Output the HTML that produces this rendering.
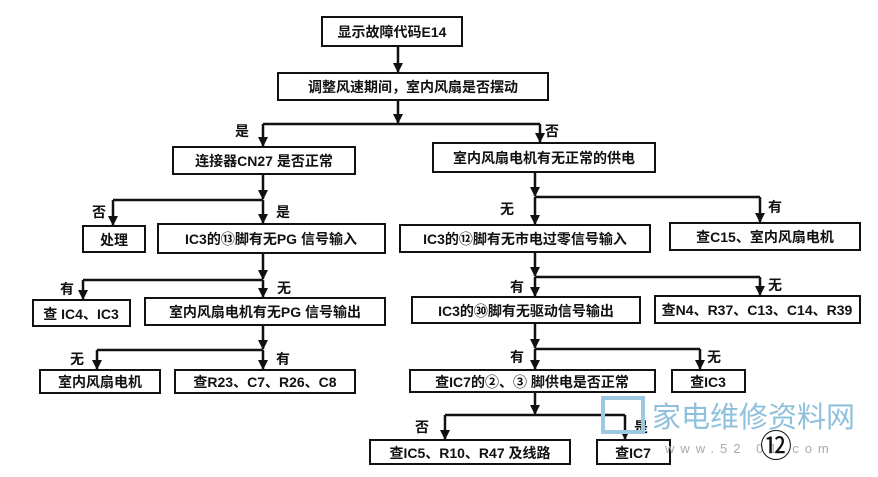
<!DOCTYPE html>
<html><head><meta charset="utf-8"><style>
body{margin:0;background:#fff}
svg text{font-family:"Liberation Sans","Noto Sans CJK SC",sans-serif;font-size:14px;font-weight:bold;fill:#111}
</style></head><body>
<svg width="878" height="472" viewBox="0 0 878 472" xmlns="http://www.w3.org/2000/svg">
<defs><marker id="a" markerWidth="12" markerHeight="12" refX="9" refY="5" orient="auto" markerUnits="userSpaceOnUse"><path d="M0,0 L10,5 L0,10 z" fill="#111"/></marker></defs>
<g fill="#fff" stroke="#111" stroke-width="2">
<rect x="322" y="17" width="140" height="29"/>
<rect x="278" y="73" width="270" height="27"/>
<rect x="173" y="147" width="182" height="27"/>
<rect x="433" y="143" width="222" height="29"/>
<rect x="83" y="226" width="62" height="26"/>
<rect x="158" y="224" width="227" height="29"/>
<rect x="400" y="225" width="250" height="27"/>
<rect x="670" y="223" width="190" height="27"/>
<rect x="33" y="300" width="97" height="26"/>
<rect x="145" y="298" width="240" height="27"/>
<rect x="412" y="297" width="228" height="26"/>
<rect x="655" y="296" width="205" height="27"/>
<rect x="40" y="370" width="120" height="23"/>
<rect x="175" y="370" width="180" height="23"/>
<rect x="410" y="370" width="245" height="22"/>
<rect x="672" y="370" width="73" height="22"/>
<rect x="370" y="440" width="200" height="24"/>
<rect x="597" y="440" width="73" height="24"/>
</g>
<g stroke="#111" stroke-width="2.5" fill="none">
<path d="M398,46 V72" marker-end="url(#a)"/>
<path d="M398,100 V123" marker-end="url(#a)"/>
<path d="M263,124 H540"/>
<path d="M263,124 V146" marker-end="url(#a)"/>
<path d="M540,124 V142" marker-end="url(#a)"/>
<path d="M263,174 V199" marker-end="url(#a)"/>
<path d="M113,200 H263"/>
<path d="M113,200 V225" marker-end="url(#a)"/>
<path d="M263,200 V223" marker-end="url(#a)"/>
<path d="M535,172 V196" marker-end="url(#a)"/>
<path d="M535,197 H760"/>
<path d="M535,197 V224" marker-end="url(#a)"/>
<path d="M760,197 V222" marker-end="url(#a)"/>
<path d="M263,253 V279" marker-end="url(#a)"/>
<path d="M83,280 H263"/>
<path d="M83,280 V299" marker-end="url(#a)"/>
<path d="M263,280 V297" marker-end="url(#a)"/>
<path d="M535,252 V276" marker-end="url(#a)"/>
<path d="M535,277 H760"/>
<path d="M535,277 V296" marker-end="url(#a)"/>
<path d="M760,277 V295" marker-end="url(#a)"/>
<path d="M263,325 V349" marker-end="url(#a)"/>
<path d="M97,350 H263"/>
<path d="M97,350 V369" marker-end="url(#a)"/>
<path d="M263,350 V369" marker-end="url(#a)"/>
<path d="M535,323 V348" marker-end="url(#a)"/>
<path d="M535,349 H700"/>
<path d="M535,349 V369" marker-end="url(#a)"/>
<path d="M700,349 V369" marker-end="url(#a)"/>
<path d="M535,392 V414" marker-end="url(#a)"/>
<path d="M445,415 H625"/>
<path d="M445,415 V439" marker-end="url(#a)"/>
<path d="M625,415 V439" marker-end="url(#a)"/>
</g>
<g text-anchor="middle">
<text x="392" y="37">显示故障代码E14</text>
<text x="413" y="92">调整风速期间，室内风扇是否摆动</text>
<text x="264" y="166">连接器CN27 是否正常</text>
<text x="544" y="163">室内风扇电机有无正常的供电</text>
<text x="114" y="245">处理</text>
<text x="271" y="244">IC3的⑬脚有无PG 信号输入</text>
<text x="525" y="244">IC3的⑫脚有无市电过零信号输入</text>
<text x="765" y="242">查C15、室内风扇电机</text>
<text x="81" y="319">查 IC4、IC3</text>
<text x="265" y="317">室内风扇电机有无PG 信号输出</text>
<text x="526" y="316">IC3的㉚脚有无驱动信号输出</text>
<text x="757" y="315">查N4、R37、C13、C14、R39</text>
<text x="100" y="387">室内风扇电机</text>
<text x="265" y="387">查R23、C7、R26、C8</text>
<text x="532" y="387">查IC7的②、③ 脚供电是否正常</text>
<text x="708" y="387">查IC3</text>
<text x="470" y="458">查IC5、R10、R47 及线路</text>
<text x="633" y="458">查IC7</text>
</g>
<g>
<text x="235" y="136">是</text><text x="545" y="136">否</text>
<text x="92" y="217">否</text><text x="276" y="217">是</text>
<text x="500" y="214">无</text><text x="768" y="212">有</text>
<text x="60" y="294">有</text><text x="277" y="293">无</text>
<text x="510" y="292">有</text><text x="768" y="290">无</text>
<text x="70" y="364">无</text><text x="276" y="364">有</text>
<text x="510" y="362">有</text><text x="707" y="362">无</text>
<text x="415" y="432">否</text><text x="634" y="432">是</text>
</g>
<rect x="603" y="398" width="40" height="34" fill="none" stroke="#9cc8e0" stroke-width="4"/>
<text x="652" y="427" style="font-size:29px;font-weight:normal;fill:#8fc0dc">家电维修资料网</text>
<text x="665" y="453" style="font-size:13px;font-weight:normal;fill:#aaa;letter-spacing:6px">www.52 01.com</text>
<text x="760" y="457" style="font-size:32px;font-weight:normal">⑫</text>
</svg>
</body></html>
